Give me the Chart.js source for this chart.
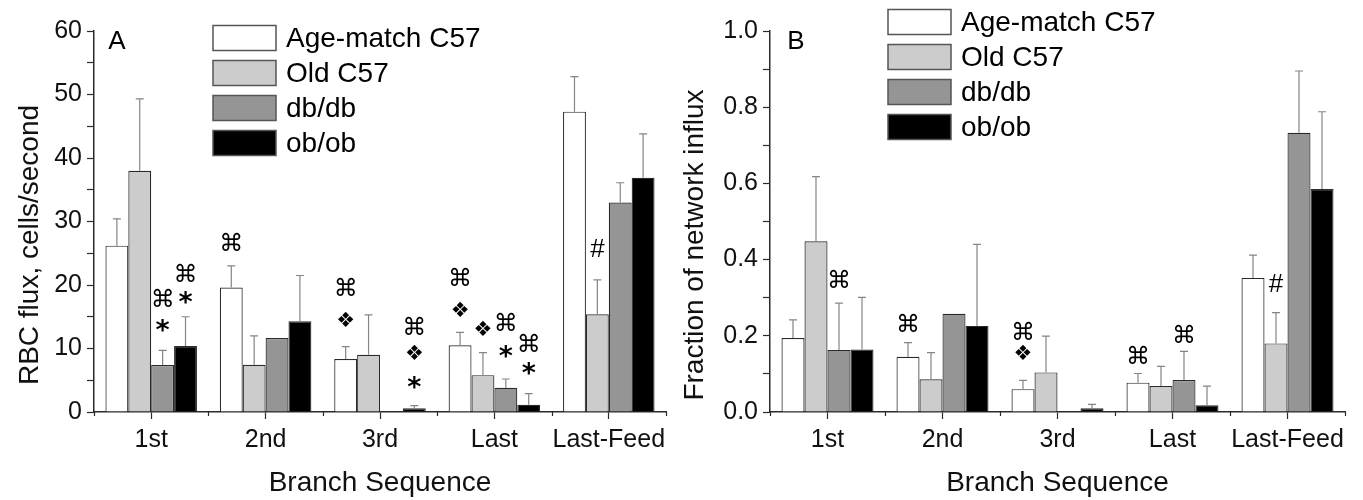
<!DOCTYPE html>
<html>
<head>
<meta charset="utf-8">
<script src="https://cdn.jsdelivr.net/npm/chart.js@4.4.1/dist/chart.umd.min.js"></script>
<style>
  html, body { margin: 0; padding: 0; background: #fff; }
  #wrap { position: relative; width: 1363px; height: 500px; }
  .panel { position: absolute; top: 0; height: 500px; }
  #panelA { left: 0; width: 680px; }
  #panelB { left: 680px; width: 683px; }
</style>
</head>
<body>
<div id="wrap">
  <div class="panel" id="panelA"><canvas id="chartA"></canvas></div>
  <div class="panel" id="panelB"><canvas id="chartB"></canvas></div>
</div>
<script>
// categories and groups
var categories = ['1st', '2nd', '3rd', 'Last', 'Last-Feed'];
var groups = ['Age-match C57', 'Old C57', 'db/db', 'ob/ob'];

// panel A: RBC flux (cells/second), mean and upper error
var fluxAge = [26.2, 19.6, 8.35, 10.5, 47.3];
var fluxAgeErr = [4.2, 3.4, 1.95, 2.05, 5.5];
var fluxOld = [38.0, 7.45, 9.0, 5.8, 15.4];
var fluxOldErr = [11.3, 4.55, 6.3, 3.55, 5.4];
var fluxDb = [7.4, 11.65, null, 3.8, 33.0];
var fluxDbErr = [2.3, null, null, 1.4, 3.1];
var fluxOb = [10.4, 14.3, 0.6, 1.15, 36.9];
var fluxObErr = [4.6, 7.2, 0.4, 1.75, 6.9];

// panel B: fraction of network influx
var fracAge = [0.194, 0.145, 0.060, 0.077, 0.352];
var fracAgeErr = [0.048, 0.037, 0.023, 0.024, 0.06];
var fracOld = [0.448, 0.086, 0.104, 0.068, 0.18];
var fracOldErr = [0.17, 0.07, 0.095, 0.052, 0.081];
var fracDb = [0.163, 0.258, null, 0.084, 0.733];
var fracDbErr = [0.123, null, null, 0.075, 0.162];
var fracOb = [0.164, 0.226, 0.010, 0.018, 0.585];
var fracObErr = [0.137, 0.214, 0.01, 0.05, 0.203];

// significance marks: [category, group, y value, symbol]
var marksA = [
  [0, 2, 18, '⌘'], [0, 2, 13.7, '*'], [0, 3, 22, '⌘'], [0, 3, 18.1, '*'],
  [1, 0, 26.8, '⌘'],
  [2, 0, 19.7, '⌘'], [2, 0, 14.6, '❖'],
  [2, 3, 13.7, '⌘'], [2, 3, 9.4, '❖'], [2, 3, 4.7, '*'],
  [3, 0, 21.3, '⌘'], [3, 0, 16.1, '❖'], [3, 1, 13.2, '❖'],
  [3, 2, 14.3, '⌘'], [3, 2, 9.6, '*'], [3, 3, 11, '⌘'], [3, 3, 6.8, '*'],
  [4, 1, 25.8, '#']
];
var marksB = [
  [0, 2, 0.35, '⌘'],
  [1, 0, 0.234, '⌘'],
  [2, 0, 0.215, '⌘'], [2, 0, 0.155, '❖'],
  [3, 0, 0.15, '⌘'], [3, 2, 0.207, '⌘'],
  [4, 1, 0.338, '#']
];

var fills = ['#ffffff', '#cccccc', '#959595', '#000000'];
var FONT = '"Liberation Sans", Arial, Helvetica, sans-serif';
var AXIS = '#2a2a2a';

function makeSets(vals, errs) {
  return vals.map(function (v, i) {
    return {
      label: groups[i],
      data: v,
      err: errs[i],
      backgroundColor: fills[i],
      borderColor: '#2a2a2a',
      borderWidth: 1.2,
      categoryPercentage: 0.8,
      barPercentage: 1.0
    };
  });
}

// upper error bars with caps
var errorBars = {
  id: 'errorBars',
  afterDatasetsDraw: function (chart) {
    var ctx = chart.ctx, y = chart.scales.y;
    ctx.save();
    ctx.strokeStyle = '#858585';
    ctx.lineWidth = 1.2;
    chart.data.datasets.forEach(function (ds, di) {
      var meta = chart.getDatasetMeta(di);
      meta.data.forEach(function (bar, i) {
        var v = ds.data[i], e = ds.err[i];
        if (v == null || e == null) return;
        var top = y.getPixelForValue(v + e), base = y.getPixelForValue(v);
        ctx.beginPath();
        ctx.moveTo(bar.x, base);
        ctx.lineTo(bar.x, top);
        ctx.moveTo(bar.x - 4, top);
        ctx.lineTo(bar.x + 4, top);
        ctx.stroke();
      });
    });
    ctx.restore();
  }
};

// symbols over the bars
var sigMarks = {
  id: 'sigMarks',
  afterDatasetsDraw: function (chart, args, opts) {
    var ctx = chart.ctx, y = chart.scales.y;
    ctx.save();
    ctx.fillStyle = '#000';
    ctx.textAlign = 'center';
    ctx.textBaseline = 'alphabetic';
    opts.marks.forEach(function (m) {
      var bar = chart.getDatasetMeta(m[1]).data[m[0]];
      var s = m[3];
      if (s === '⌘') ctx.font = '24px "DejaVu Sans", sans-serif';
      else if (s === '❖') ctx.font = '21px "DejaVu Sans", sans-serif';
      else if (s === '*') ctx.font = 'bold 27px "DejaVu Sans", sans-serif';
      else ctx.font = '26px ' + FONT;
      var tm = ctx.measureText(s);
      var py = y.getPixelForValue(m[2]) + (tm.actualBoundingBoxAscent - tm.actualBoundingBoxDescent) / 2;
      ctx.fillText(s, bar.x, py);
    });
    ctx.restore();
  }
};

// in-plot legend, panel letter, y title and half-category ticks
var decor = {
  id: 'decor',
  afterDraw: function (chart, args, opts) {
    var ctx = chart.ctx, area = chart.chartArea;
    ctx.save();
    // minor ticks at category boundaries
    var w = (area.right - area.left) / categories.length;
    ctx.strokeStyle = AXIS;
    ctx.lineWidth = 1.2;
    for (var k = 0; k <= categories.length; k++) {
      var px = Math.round(area.left + k * w) + 0.5;
      ctx.beginPath();
      ctx.moveTo(px, area.bottom);
      ctx.lineTo(px, area.bottom + 4);
      ctx.stroke();
    }
    // y axis title, sits a bit below the plot centre in the original
    ctx.fillStyle = '#111';
    ctx.font = '28px ' + FONT;
    ctx.textAlign = 'center';
    ctx.textBaseline = 'middle';
    ctx.translate(opts.titleX, area.top + 214);
    ctx.rotate(-Math.PI / 2);
    ctx.fillText(opts.yTitle, 0, 0);
    ctx.setTransform(1, 0, 0, 1, 0, 0);
    ctx.restore();
    ctx.save();
    // panel letter
    ctx.fillStyle = '#000';
    ctx.font = '26px ' + FONT;
    ctx.textAlign = 'center';
    ctx.textBaseline = 'middle';
    ctx.fillText(opts.letter, area.left + opts.letterDx, area.top + opts.letterDy);
    // legend
    ctx.textAlign = 'left';
    ctx.font = '28px ' + FONT;
    chart.data.datasets.forEach(function (ds, i) {
      var cy = area.top + opts.legendDy + i * 35;
      var lx = area.left + opts.legendDx;
      ctx.fillStyle = ds.backgroundColor;
      ctx.fillRect(lx, cy - 12.5, 63, 25);
      ctx.strokeStyle = '#555';
      ctx.lineWidth = 1.5;
      ctx.strokeRect(lx, cy - 12.5, 63, 25);
      ctx.fillStyle = '#000';
      ctx.fillText(ds.label, lx + 73, cy + 1);
    });
    ctx.restore();
  }
};

function axes(yMax, yStep, fmt, yWidth) {
  return {
    x: {
      offset: true,
      grid: { display: true, drawOnChartArea: false, offset: false, tickLength: 7, tickColor: AXIS, tickWidth: 1.2 },
      border: { color: AXIS, width: 1.5 },
      ticks: { color: '#111', font: { family: FONT, size: 25 }, padding: 6, maxRotation: 0, autoSkip: false },
      title: { display: true, text: 'Branch Sequence', color: '#111', font: { family: FONT, size: 28 }, padding: { top: 0, bottom: 0 } },
      afterFit: function (s) { s.height = 88; }
    },
    y: {
      min: 0, max: yMax,
      grid: { display: true, drawOnChartArea: false, tickLength: 7, tickColor: AXIS, tickWidth: 1.2 },
      border: { color: AXIS, width: 1.5 },
      ticks: { stepSize: yStep, autoSkip: false, color: '#111', font: { family: FONT, size: 25 }, padding: 5, callback: fmt },
      afterFit: function (s) { s.width = yWidth; }
    }
  };
}

function baseOptions(scales, marks, deco, padRight) {
  return {
    responsive: true,
    maintainAspectRatio: false,
    animation: false,
    layout: { padding: { top: 31, right: padRight, bottom: 0, left: 0 } },
    plugins: { legend: { display: false }, tooltip: { enabled: false }, sigMarks: { marks: marks }, decor: deco },
    scales: scales
  };
}

new Chart(document.getElementById('chartA'), {
  type: 'bar',
  data: { labels: categories, datasets: makeSets([fluxAge, fluxOld, fluxDb, fluxOb], [fluxAgeErr, fluxOldErr, fluxDbErr, fluxObErr]) },
  options: baseOptions(
    axes(60, 5, function (v) { return v % 10 === 0 ? v : ''; }, 94),
    marksA,
    { yTitle: 'RBC flux, cells/second', titleX: 30, letter: 'A', letterDx: 23, letterDy: 11, legendDx: 119, legendDy: 7 },
    14
  ),
  plugins: [errorBars, sigMarks, decor]
});

new Chart(document.getElementById('chartB'), {
  type: 'bar',
  data: { labels: categories, datasets: makeSets([fracAge, fracOld, fracDb, fracOb], [fracAgeErr, fracOldErr, fracDbErr, fracObErr]) },
  options: baseOptions(
    axes(1, 0.1, function (v) { return Math.round(v * 10) % 2 === 0 ? v.toFixed(1) : ''; }, 90),
    marksB,
    { yTitle: 'Fraction of network influx', titleX: 15, letter: 'B', letterDx: 26, letterDy: 11, legendDx: 118, legendDy: -9 },
    18
  ),
  plugins: [errorBars, sigMarks, decor]
});
</script>
</body>
</html>
